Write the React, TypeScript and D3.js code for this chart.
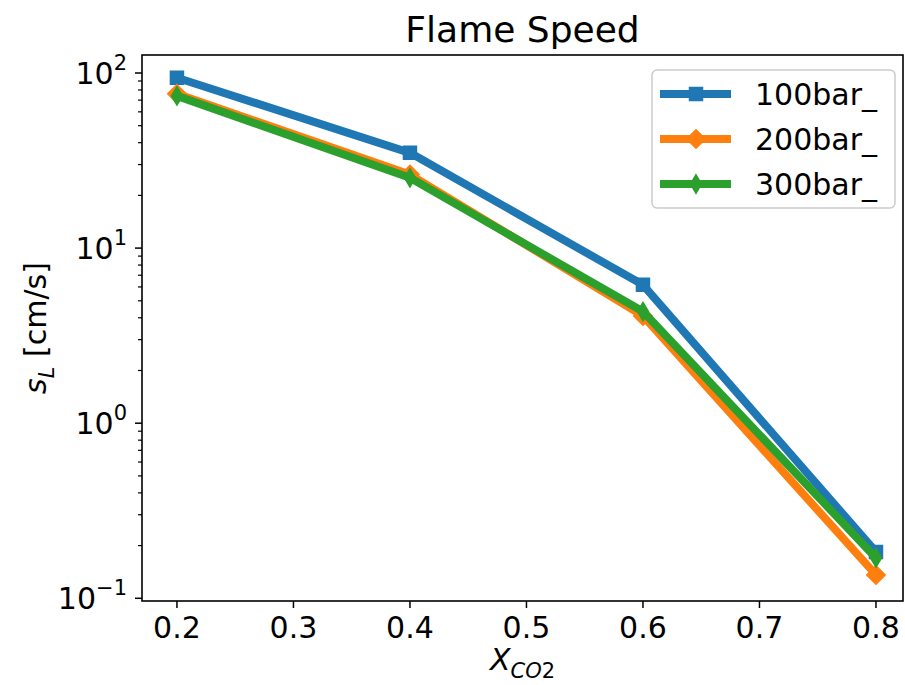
import React from 'react';
import * as d3 from 'd3';

// x = CO2 mole fraction, y = laminar flame speed in cm/s
const xValues = [0.2, 0.4, 0.6, 0.8];
const speed100 = [94, 35, 6.17, 0.184];
const speed200 = [76, 26.3, 4.1, 0.136];
const speed300 = [74, 25.2, 4.34, 0.17];

const seriesNames = ['100bar_', '200bar_', '300bar_'];
const seriesColors = ['#1f77b4', '#ff7f0e', '#2ca02c'];
const seriesMarkers = ['square', 'diamond', 'thindiamond'];

const xTicks = [0.2, 0.3, 0.4, 0.5, 0.6, 0.7, 0.8];
const yMajor = [0.1, 1, 10, 100];
const yExpLabels = ['\u22121', '0', '1', '2'];

const W = 905;
const H = 685;
const left = 142;
const right = 903;
const top = 55;
const bottom = 601;
const font = 'DejaVu Sans, sans-serif';

const markerPath = (kind: string) => {
  if (kind === 'square') return 'M-6.5,-6.5H6.5V6.5H-6.5Z';
  if (kind === 'diamond') return 'M0,-9.2L9.2,0L0,9.2L-9.2,0Z';
  return 'M0,-9.2L5.5,0L0,9.2L-5.5,0Z';
};

export default function App() {
  const x = d3.scaleLinear().domain([0.17, 0.8232]).range([left, right]);
  const y = d3.scaleLog().domain([0.0965, 126.7]).range([bottom, top]);

  const allSeries = [speed100, speed200, speed300];
  const line = d3
    .line<number>()
    .x((_, i) => x(xValues[i]))
    .y((d) => y(d));

  const minor: number[] = [];
  [0.1, 1, 10, 100].forEach((dec) => {
    for (let k = 2; k <= 9; k++) {
      const v = dec * k;
      if (v > y.domain()[0] && v < y.domain()[1]) minor.push(v);
    }
  });

  const legX = 652;
  const legY = 70;
  const rowY = [94, 139, 184];

  return (
    <svg width={W} height={H} style={{ position: 'absolute', left: 0, top: 0, background: '#fff' }} fontFamily={font}>
      <text x={(left + right) / 2} y={42} textAnchor="middle" fontSize={36}>Flame Speed</text>

      {/* data */}
      {allSeries.map((s, si) => (
        <g key={si}>
          <path d={line(s) || ''} fill="none" stroke={seriesColors[si]} strokeWidth={8} strokeLinejoin="round" />
          {s.map((v, i) => (
            <path key={i} d={markerPath(seriesMarkers[si])} transform={`translate(${x(xValues[i])},${y(v)})`}
              fill={seriesColors[si]} stroke={seriesColors[si]} strokeWidth={1.5} />
          ))}
        </g>
      ))}

      {/* frame */}
      <rect x={left} y={top} width={right - left} height={bottom - top} fill="none" stroke="#000" strokeWidth={1.6} />

      {/* x axis */}
      {xTicks.map((t) => (
        <g key={t} transform={`translate(${x(t)},${bottom})`}>
          <line y2={7} stroke="#000" strokeWidth={1.5} />
          <text y={37} textAnchor="middle" fontSize={30}>{t.toFixed(1)}</text>
        </g>
      ))}

      {/* y axis */}
      {minor.map((t) => (
        <line key={t} x1={left - 4} x2={left} y1={y(t)} y2={y(t)} stroke="#000" strokeWidth={1.2} />
      ))}
      {yMajor.map((t, i) => (
        <g key={t} transform={`translate(${left},${y(t)})`}>
          <line x1={-7} stroke="#000" strokeWidth={1.5} />
          <text x={-15} y={11} textAnchor="end" fontSize={30}>
            10<tspan fontSize={21} dy={-14}>{yExpLabels[i]}</tspan>
          </text>
        </g>
      ))}

      {/* axis labels */}
      <text transform={`translate(46,${(top + bottom) / 2}) rotate(-90)`} textAnchor="middle" fontSize={30}>
        <tspan fontStyle="italic">s</tspan>
        <tspan fontStyle="italic" fontSize={21} dy={8}>L</tspan>
        <tspan dy={-8}> [cm/s]</tspan>
      </text>
      <text x={(left + right) / 2} y={670} textAnchor="middle" fontSize={30}>
        <tspan fontStyle="italic">X</tspan>
        <tspan fontStyle="italic" fontSize={21} dy={8}>CO</tspan>
        <tspan fontSize={21}>2</tspan>
      </text>

      {/* legend */}
      <rect x={legX} y={legY} width={243} height={138} rx={5} fill="#fff" fillOpacity={0.8} stroke="#ccc" strokeWidth={1.5} />
      {seriesNames.map((n, i) => (
        <g key={n} transform={`translate(0,${rowY[i]})`}>
          <line x1={660} x2={731} stroke={seriesColors[i]} strokeWidth={8} />
          <path d={markerPath(seriesMarkers[i])} transform="translate(696,0)" fill={seriesColors[i]} stroke={seriesColors[i]} strokeWidth={1.5} />
          <text x={755} y={11} fontSize={30}>{n}</text>
        </g>
      ))}
    </svg>
  );
}
